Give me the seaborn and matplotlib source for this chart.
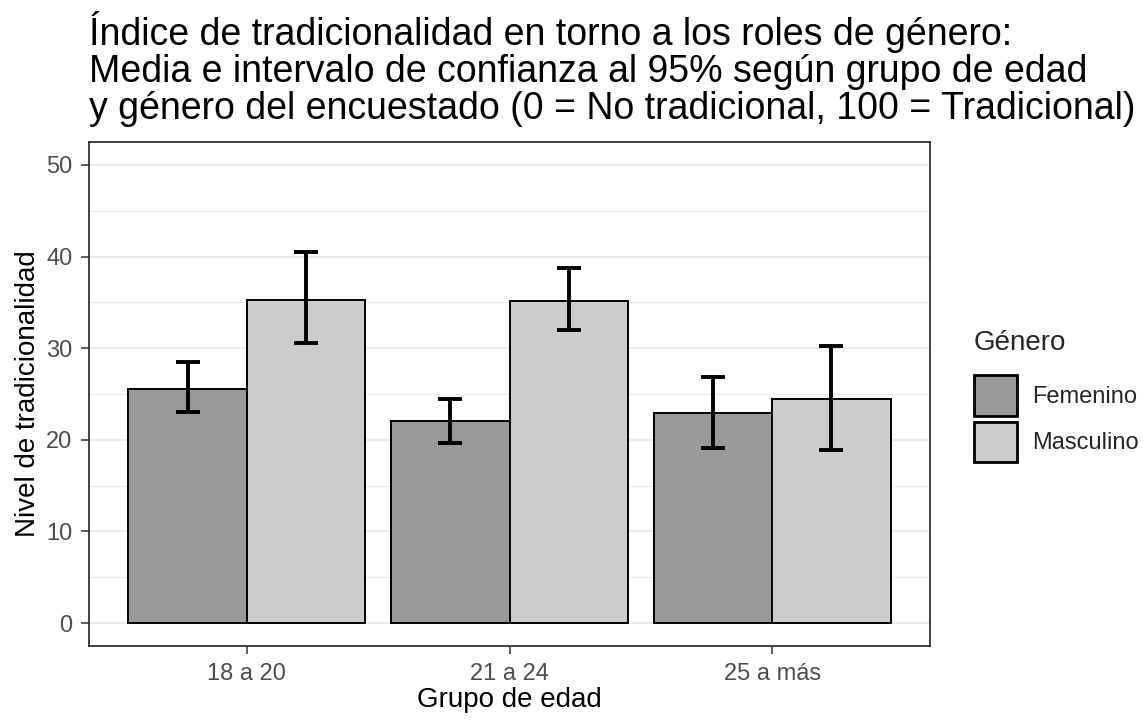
import matplotlib.pyplot as plt
import pandas as pd
import seaborn as sns
from matplotlib.ticker import MultipleLocator

AGE_GROUPS = ["18 a 20", "21 a 24", "25 a más"]
GENDERS = ["Femenino", "Masculino"]
MEAN_FEM = [25.5, 22.0, 22.9]
MEAN_MASC = [35.3, 35.1, 24.5]
LOW_FEM = [23.0, 19.7, 19.1]
HIGH_FEM = [28.5, 24.5, 26.9]
LOW_MASC = [30.6, 32.0, 18.9]
HIGH_MASC = [40.5, 38.8, 30.2]
COLORS = ["#999999", "#CCCCCC"]

TITLE = ("Índice de tradicionalidad en torno a los roles de género:\n"
         "Media e intervalo de confianza al 95% según grupo de edad\n"
         "y género del encuestado (0 = No tradicional, 100 = Tradicional)")


def main():
    df = pd.DataFrame({
        "grupo": AGE_GROUPS * 2,
        "genero": [GENDERS[0]] * 3 + [GENDERS[1]] * 3,
        "media": MEAN_FEM + MEAN_MASC,
        "low": LOW_FEM + LOW_MASC,
        "high": HIGH_FEM + HIGH_MASC,
    })

    sns.set_theme(style="white")
    plt.rcParams["font.family"] = ["Liberation Sans", "DejaVu Sans"]

    fig = plt.figure(figsize=(11.47, 7.23), dpi=100)
    ax = fig.add_axes([89 / 1147, 77 / 723, 841 / 1147, 504 / 723])

    ax.yaxis.set_major_locator(MultipleLocator(10))
    ax.yaxis.set_minor_locator(MultipleLocator(5))
    ax.grid(which="major", axis="both", color="#EBEBEB", linewidth=1.5, zorder=0)
    ax.grid(which="minor", axis="y", color="#EBEBEB", linewidth=0.8, zorder=0)
    ax.set_axisbelow(True)

    sns.barplot(data=df, x="grupo", y="media", hue="genero", order=AGE_GROUPS,
                hue_order=GENDERS, palette=COLORS, errorbar=None, width=0.9,
                edgecolor="black", linewidth=1.4, ax=ax, zorder=2)

    for container, gen in zip(ax.containers, GENDERS):
        sub = df[df["genero"] == gen].set_index("grupo").loc[AGE_GROUPS]
        xs = [p.get_x() + p.get_width() / 2 for p in container.patches]
        ax.errorbar(xs, sub["media"],
                    yerr=[sub["media"] - sub["low"], sub["high"] - sub["media"]],
                    fmt="none", ecolor="black", elinewidth=2.8, capsize=8.8,
                    capthick=2.8, zorder=3)

    ax.set_xlim(-0.6, 2.6)
    ax.set_ylim(-2.5, 52.5)
    ax.set_xlabel("Grupo de edad", fontsize=20, color="black", labelpad=2)
    ax.set_ylabel("Nivel de tradicionalidad", fontsize=20, color="black", labelpad=4)
    ax.tick_params(axis="both", which="major", labelsize=17, labelcolor="#4D4D4D",
                   length=5.5, width=1.1, color="#333333", left=True, bottom=True,
                   pad=6.5)
    ax.tick_params(axis="y", which="minor", left=False)
    for s in ax.spines.values():
        s.set_color("#333333")
        s.set_linewidth(1.3)

    handles, labels = ax.get_legend_handles_labels()
    leg = ax.legend(handles, labels, title="Género", loc="upper left",
                    bbox_to_anchor=(974 / 1147, 1 - 330 / 723),
                    bbox_transform=fig.transFigure, frameon=False, fontsize=17,
                    title_fontsize=20, handlelength=1.8, handleheight=2.25,
                    labelspacing=0.25, handletextpad=0.65, borderaxespad=0,
                    borderpad=0)
    leg._legend_box.align = "left"
    leg._legend_box.sep = 14
    for h in leg.legend_handles:
        h.set_linewidth(2)

    fig.text(89 / 1147, 1 - 11 / 723, TITLE, fontsize=27, ha="left", va="top",
             linespacing=1.03, color="black")

    fig.savefig("out.png", dpi=100)


if __name__ == "__main__":
    main()
